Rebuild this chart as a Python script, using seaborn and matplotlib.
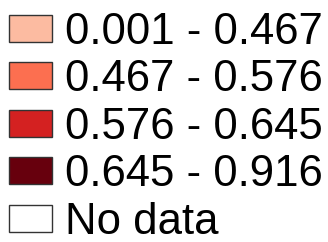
import matplotlib.pyplot as plt
import seaborn as sns
from matplotlib.patches import Patch

sns.set_style("white")
plt.rcParams["font.family"] = ["Liberation Sans", "DejaVu Sans"]

# legend classes of the choropleth
labels = ["0.001 - 0.467", "0.467 - 0.576", "0.576 - 0.645", "0.645 - 0.916", "No data"]
colors = ["#fcbba1", "#fc6f50", "#d42121", "#67000d", "#ffffff"]

fs = 31.5
fig, ax = plt.subplots(figsize=(3.28, 2.42), dpi=100)
ax.set_axis_off()
handles = [Patch(facecolor=c, edgecolor="#333333", linewidth=1.0) for c in colors]
ax.legend(handles, labels, loc="upper left", bbox_to_anchor=(2 / 328, 1 - 5 / 242),
          bbox_transform=fig.transFigure, frameon=False, fontsize=fs,
          labelcolor="black",
          handlelength=1.0, handleheight=0.57, handletextpad=0.3,
          labelspacing=0.15, borderaxespad=0.0, borderpad=0.15)
fig.subplots_adjust(0, 0, 1, 1)
fig.savefig("out.png", dpi=100)
